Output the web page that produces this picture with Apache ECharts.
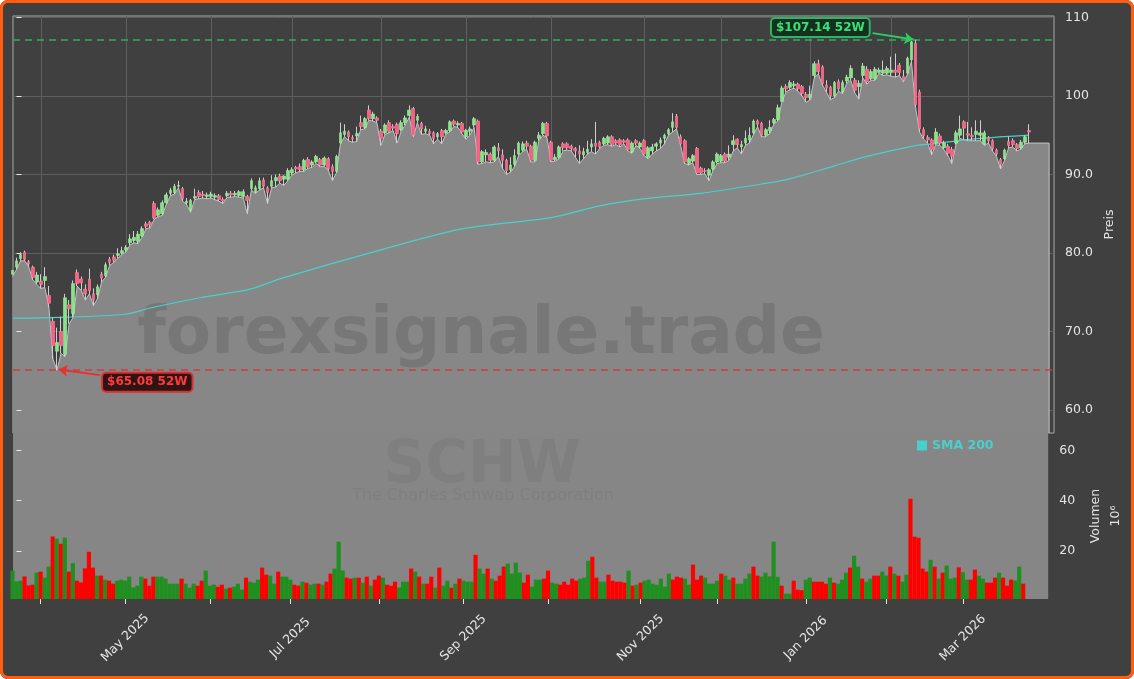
<!DOCTYPE html>
<html><head><meta charset="utf-8">
<script src="https://cdn.jsdelivr.net/npm/echarts@6/dist/echarts.min.js"></script>
<style>
html,body{margin:0;padding:0;background:#ffffff;}
#chart{position:absolute;left:0;top:0;width:1134px;height:679px;background:#404040;border-radius:8px;}
#frame{position:absolute;left:0;top:0;width:1134px;height:679px;box-sizing:border-box;border:3px solid #ff5e0e;border-radius:8px;pointer-events:none;}
</style></head><body>
<div id="chart"></div><div id="frame"></div>
<script>
// ---------- DATA (trading-day index; first entry is index -1 = 2025-03-21) ----------
const FIRST_IDX = -1;
const opens = [
77.3,78.2,79.3,80.1,78.9,78.2,76.3,76.4,76.5,74.6,71.3,
67.5,70.0,67.1,73.4,72.3,77.5,76.7,75.4,76.7,74.8,
74.7,77.3,77.1,79.2,79.5,79.7,80.0,80.4,81.3,81.6,
81.5,82.2,83.7,83.9,86.3,84.8,85.0,86.4,87.6,87.7,
88.5,88.2,86.4,85.5,87.0,87.7,87.5,87.2,87.2,87.1,
87.3,86.8,87.3,87.6,87.4,87.3,87.2,87.2,88.2,87.8,
88.2,89.3,88.3,88.5,89.2,89.8,89.4,89.4,90.2,90.9,
91.0,90.6,91.9,91.2,91.6,91.9,91.2,92.0,91.0,90.4,
94.0,95.1,95.4,94.7,94.9,96.6,96.0,98.2,97.1,97.2,
95.5,95.3,96.6,96.1,96.4,95.7,96.6,97.5,98.4,96.9,
96.5,95.5,95.5,95.3,94.8,95.6,95.3,95.6,96.8,96.3,
96.5,94.8,95.5,96.3,96.8,91.6,92.5,92.6,91.8,93.4,
92.5,91.8,90.6,91.3,92.6,93.1,94.0,93.6,91.8,94.6,
95.2,96.5,94.1,91.9,92.2,93.9,93.9,93.6,93.3,93.0,
92.5,92.8,93.5,94.0,94.1,93.9,94.0,94.8,94.3,94.4,
94.3,94.4,92.9,94.3,93.5,94.3,92.2,93.0,93.6,94.0,
94.6,95.2,96.0,97.4,94.8,94.3,91.4,91.7,93.3,90.8,
90.5,89.9,90.7,91.6,91.7,92.6,92.2,93.8,94.5,93.5,
94.0,94.4,95.3,96.8,96.5,95.0,95.6,96.6,97.0,99.3,
101.2,101.1,101.3,101.5,101.2,100.2,99.8,102.6,104.1,103.7,
101.4,101.1,100.0,101.8,100.5,101.9,102.3,102.0,101.2,102.6,
103.4,102.2,102.2,103.0,102.9,102.9,103.0,103.3,103.9,102.5,
102.9,104.6,106.7,100.5,95.7,94.7,94.4,94.0,94.9,93.4,
93.6,93.2,94.0,95.0,96.7,95.2,95.0,95.1,95.0,93.9,
94.7,94.3,93.1,91.9,92.0,94.2,94.3,93.8,93.4,94.1,95.6];
const closes = [
77.8,79.0,79.8,79.2,78.6,76.9,77.2,76.0,77.0,73.6,68.2,
68.6,68.2,74.3,72.9,76.1,76.1,76.2,74.8,75.2,74.0,
75.7,76.8,78.5,78.8,79.1,79.9,80.3,80.7,81.8,82.0,
82.4,83.1,83.4,83.6,84.5,85.5,86.4,87.4,88.0,88.5,
88.6,86.9,86.6,86.7,87.2,87.2,87.3,87.4,87.5,87.3,
86.8,86.6,87.6,87.4,87.6,87.8,87.8,86.7,89.2,88.3,
89.2,88.5,87.7,89.2,89.6,89.2,89.8,90.5,90.6,90.7,
90.6,91.8,91.0,91.6,92.3,91.2,92.1,90.7,90.4,92.3,
95.3,95.5,94.8,94.5,95.2,96.1,97.1,97.1,97.7,96.9,
94.6,96.3,95.5,95.9,95.2,96.6,97.2,98.2,95.0,97.4,
95.8,95.8,95.2,94.6,95.2,94.8,95.6,96.7,96.4,96.5,
95.4,95.6,95.8,97.1,91.6,92.9,92.8,91.8,93.5,93.0,
91.8,90.5,91.2,92.4,94.0,93.9,93.6,91.8,94.1,95.0,
96.5,94.9,91.8,92.2,93.5,93.4,93.4,93.3,93.0,92.6,
92.9,93.2,93.9,93.6,93.5,94.6,94.8,93.8,94.0,93.8,
94.1,93.2,94.0,94.0,94.0,92.6,93.4,93.5,93.9,94.4,
95.0,95.7,96.7,96.0,93.9,91.6,92.0,92.4,90.2,90.2,
90.4,90.6,91.6,92.6,92.4,91.7,92.6,94.3,93.8,93.8,
94.6,95.0,96.8,96.4,95.0,95.7,96.0,97.0,98.5,101.0,
100.9,101.7,101.5,100.9,100.3,99.8,100.2,104.1,103.1,101.6,
101.0,100.0,101.7,100.9,101.7,102.4,103.5,100.7,101.6,103.8,
101.8,103.1,103.4,103.3,103.3,103.5,103.3,103.0,103.0,102.0,
104.8,106.9,98.9,95.8,94.9,94.4,93.2,95.4,94.0,94.0,
92.7,92.3,95.3,95.8,95.9,95.0,94.8,95.5,95.3,95.3,
94.3,93.3,92.6,91.3,93.1,93.7,93.8,93.3,94.1,94.8,95.4];
const lows = [
77.0,77.9,79.0,79.0,78.3,76.6,76.0,75.5,75.6,73.1,66.5,
65.08,67.2,66.8,71.0,71.8,75.8,75.2,74.0,74.8,73.3,
74.2,76.3,76.9,78.4,78.8,79.3,79.8,80.1,81.0,81.3,
81.2,82.0,83.1,83.2,84.3,84.6,84.8,86.2,87.3,87.5,
88.3,86.6,86.2,85.2,86.8,86.9,87.0,86.9,87.0,86.8,
86.6,86.3,87.1,87.1,87.2,87.1,87.0,85.0,88.0,87.6,
88.0,88.3,86.3,88.3,88.4,88.9,88.6,89.2,89.9,90.2,
90.4,90.4,90.8,90.9,91.4,91.0,91.0,90.5,89.2,90.2,
93.9,94.8,94.3,94.1,94.2,95.7,95.8,96.9,96.8,96.6,
93.7,95.1,95.3,95.6,94.0,95.5,96.3,97.3,94.8,96.6,
95.1,95.2,95.0,93.9,94.5,93.9,95.1,95.4,96.1,96.0,
95.2,94.5,95.0,96.0,91.3,91.4,91.6,91.5,91.6,92.3,
90.8,90.0,90.3,91.0,92.4,92.9,93.2,91.6,91.6,94.3,
95.0,94.7,91.6,91.7,92.0,93.0,93.1,93.0,92.2,91.4,
92.0,92.6,92.9,92.6,93.3,93.7,93.8,93.6,93.8,93.5,
93.9,93.0,92.7,93.7,93.3,92.4,92.0,92.6,93.0,93.3,
93.9,95.0,95.4,95.8,93.7,91.4,91.2,91.5,90.0,90.0,
90.1,89.2,90.5,91.4,91.5,91.5,91.8,93.0,93.4,92.6,
93.7,94.0,95.1,96.1,94.8,94.8,95.2,96.4,96.8,99.2,
100.5,100.8,101.0,100.6,100.0,99.2,99.5,102.3,102.8,101.4,
100.5,99.5,99.8,100.6,100.3,101.6,102.0,100.4,99.6,102.3,
101.5,102.0,102.0,102.9,102.6,102.7,102.5,102.4,102.6,101.8,
102.7,104.4,98.6,95.4,94.5,94.0,92.5,93.8,93.7,93.2,
92.4,91.4,93.8,94.6,94.4,94.3,94.3,94.3,94.3,93.7,
94.0,93.0,92.3,90.7,91.8,93.4,93.5,93.0,93.2,93.9,94.0];
const highs = [
78.2,79.4,80.1,80.3,79.1,78.4,77.6,77.3,78.2,75.8,71.8,
70.5,71.9,74.8,74.0,76.5,77.9,77.0,76.0,78.0,75.5,
76.0,77.6,78.8,79.5,79.8,80.6,80.8,81.0,82.4,82.8,
82.8,83.4,84.0,84.1,86.6,85.8,86.7,87.7,88.3,88.8,
89.2,88.4,87.0,86.9,88.2,88.0,87.9,87.7,87.8,87.6,
87.5,87.1,87.9,87.9,87.9,88.0,88.1,87.4,89.5,88.6,
89.6,89.6,88.5,89.9,90.0,90.1,89.9,90.8,90.9,91.1,
91.4,92.0,92.2,91.8,92.5,92.1,92.3,92.2,91.3,92.5,
96.6,96.4,95.6,95.0,96.1,97.5,97.3,98.8,98.0,97.4,
95.8,96.5,96.9,96.4,96.6,96.9,97.5,98.8,98.6,97.7,
96.7,96.2,95.8,95.5,95.4,95.8,95.8,96.9,97.0,96.8,
96.7,95.8,96.1,97.3,97.0,93.1,93.2,92.8,93.7,94.0,
93.2,92.0,92.2,93.2,94.2,94.2,94.3,93.8,94.3,95.4,
96.7,96.7,94.3,92.6,93.7,94.1,94.1,93.8,93.5,93.7,
93.4,94.3,94.5,96.7,94.3,94.8,95.0,95.0,94.5,94.6,
94.5,94.6,94.2,94.5,94.2,94.5,93.6,93.9,94.1,94.7,
95.2,95.9,97.8,97.7,95.1,94.5,92.2,92.6,93.5,91.0,
90.8,90.8,91.8,92.8,92.6,92.8,93.7,95.0,94.6,94.3,
95.6,96.0,97.0,97.0,96.7,95.9,96.9,97.2,98.9,101.3,
101.5,102.0,101.9,101.7,101.4,100.5,101.3,104.4,104.6,103.9,
102.0,101.3,101.9,102.1,102.0,102.7,103.9,102.3,102.0,104.2,
103.8,103.4,103.7,103.6,104.5,103.8,105.0,105.4,104.2,103.3,
105.0,107.0,107.14,100.8,96.0,95.0,94.6,95.9,95.2,94.3,
93.9,93.5,95.6,97.5,96.9,96.7,96.0,96.9,96.9,95.6,
94.9,94.5,93.3,92.1,93.3,94.8,94.6,94.0,94.4,95.0,96.4];
// volume in millions
const volumes = [
12.1,7.8,8.1,9.8,6.2,6.5,11.3,11.7,9.3,13.7,25.7,
24.8,22.8,25.2,11.7,15.1,8.1,7.4,13.0,19.6,13.3,
10.1,10.1,8.5,8.1,6.9,8.1,8.5,8.1,9.7,5.4,
6.1,9.7,8.9,6.1,9.7,9.7,9.7,8.9,6.9,6.9,
6.9,8.9,6.9,5.3,6.9,6.1,8.1,12.1,6.1,6.5,
5.7,6.5,4.9,5.3,5.7,6.9,4.5,9.3,7.7,7.3,
8.5,13.3,10.5,10.1,6.9,11.7,9.7,9.7,8.5,6.5,
6.1,7.7,7.3,6.5,6.9,6.9,6.5,7.7,10.9,12.9,
23.6,12.1,9.3,8.9,9.3,9.3,7.3,9.7,6.1,8.5,
10.1,9.3,6.5,6.1,7.7,5.4,7.7,7.7,12.9,11.7,
9.7,6.9,6.9,9.7,5.3,13.3,6.1,8.1,5.3,6.9,
8.9,8.1,7.7,7.7,18.4,12.9,10.9,12.9,8.9,8.1,
10.1,13.7,14.9,10.9,15.3,11.3,7.3,10.5,5.7,8.5,
8.5,8.9,12.1,7.3,6.9,6.5,7.7,6.5,8.9,8.1,
8.9,9.3,16.0,17.6,9.3,7.7,7.7,10.5,8.1,7.7,
7.7,7.3,12.1,6.1,6.5,7.3,8.1,8.5,6.9,6.5,
8.9,5.7,10.9,8.5,9.7,9.3,8.9,6.5,14.5,8.5,
10.1,9.3,6.9,6.9,8.1,10.9,10.1,8.5,9.3,6.9,
6.9,8.9,10.9,13.7,10.1,9.7,11.3,9.8,23.6,9.6,
6.1,2.9,2.9,8.1,4.5,4.3,8.5,9.3,7.7,7.7,
7.7,6.9,9.3,7.3,6.9,8.5,11.3,13.3,18.0,13.7,
8.9,7.7,8.9,10.1,10.1,11.7,10.1,13.7,10.9,10.1,
7.7,10.5,40.7,25.6,25.2,12.9,11.7,16.4,13.7,8.9,
11.3,14.1,8.9,9.3,13.4,11.5,8.5,8.5,12.5,10.1,
8.9,7.3,7.3,9.3,11.3,9.3,6.1,8.5,8.1,13.7,6.9];
const volumeUp = [
1,1,1,0,0,0,1,0,1,1,0,
1,0,1,0,1,0,0,0,0,0,
1,0,1,0,0,1,1,1,1,1,
1,1,0,0,0,1,1,1,1,1,
1,0,1,1,1,0,0,1,1,1,
0,0,1,0,1,1,1,0,1,1,
1,0,0,1,1,0,1,1,1,0,
0,1,0,1,1,0,1,0,0,1,
1,1,0,0,1,0,1,0,1,0,
0,1,0,0,0,1,1,1,0,1,
0,1,0,0,1,0,1,1,0,1,
0,1,1,1,0,1,1,0,1,0,
0,0,1,1,1,1,0,0,1,1,
1,0,0,1,1,0,0,0,0,0,
1,1,1,0,0,1,1,0,0,0,
0,0,1,0,1,0,1,1,1,1,
1,1,1,0,0,0,1,1,0,0,
0,1,1,1,1,0,1,1,0,1,
1,1,1,0,0,1,1,1,1,1,
0,1,1,0,0,0,1,1,0,0,
0,0,1,0,1,1,1,0,1,1,
0,1,1,0,0,1,1,0,1,0,
1,1,0,0,0,0,0,1,0,1,
0,1,1,1,0,1,1,0,0,1,
1,0,0,0,1,0,0,0,1,1,0];
// SMA 200 read points [trading-day index, value]
const smaIdx = [-0.86,10.7,26.8,33,45.3,57.7,65,89.3,110.3,132,144,154.8,168.8,185.3,191,202,210,222.3,226.3,234.7,250];
const smaVal = [71.7,71.8,72.2,73.0,74.3,75.4,76.7,80.3,83.1,84.5,86.0,86.9,87.6,88.9,89.45,91.1,92.3,93.7,93.9,94.45,95.0];
// fill extension at right end
const areaEndIdx = 255, areaEndLevel = 94.0;
// 52-week extremes
const hi52 = {idx: 222, value: 107.14};
const lo52 = {idx: 10, value: 65.08};
// axis ticks
const monthTickIdx = [6,27,48,68,90,111,132,155,174,196,216,235];
const monthLabelIdx = [27,68,111,155,196,235];
const monthLabels = ['May 2025','Jul 2025','Sep 2025','Nov 2025','Jan 2026','Mar 2026'];
const priceTicks = [60,70,80,90,100,110];
const priceTickLabels = ['60.0','70.0','80.0','90.0','100','110'];
const volTicks = [20,40,60];
const volTickLabels = ['20','40','60'];

// ---------- CHART ----------
const X_MIN = -0.86, X_MAX = 256.2;
const Y_MIN = 57.08, Y_MAX = 110.18;
const V_MIN = 0.8, V_MAX = 66.9;
const FONT = 'DejaVu Sans';
const TXT = '#e4e4e4';

const wickData = opens.map((o,k)=>[k+FIRST_IDX, o, closes[k], lows[k], highs[k]]);
const bodyData = opens.map((o,k)=>[k+FIRST_IDX, o, closes[k], Math.min(o,closes[k]), Math.max(o,closes[k])]);
const areaData = lows.map((l,k)=>[k+FIRST_IDX, l]).concat([[areaEndIdx, areaEndLevel],[areaEndIdx, Y_MIN]]);
const smaData = smaIdx.map((x,k)=>[x, smaVal[k]]);
const volData = volumes.map((v,k)=>({value:[k+FIRST_IDX, v], itemStyle:{color: volumeUp[k] ? '#1f8f1f' : '#ff0000'}}));

const chart = echarts.init(document.getElementById('chart'));
chart.setOption({
  animation:false,
  backgroundColor:'transparent',
  textStyle:{fontFamily:FONT},
  legend:{data:['SMA 200'], left:912, top:434, icon:'rect', itemWidth:10, itemHeight:10, itemGap:6,
    textStyle:{color:'#48d1cc', fontWeight:'bold', fontSize:12.5, fontFamily:FONT}},
  grid:[
    {left:13, top:16, width:1041, height:417, show:true, backgroundColor:'#404040', borderColor:'#a8a8a8', borderWidth:1, z:0},
    {left:13, top:433, width:1041, height:166, show:true, backgroundColor:'#868686', borderWidth:0, z:0}
  ],
  xAxis:[
    {type:'value', gridIndex:0, min:X_MIN, max:X_MAX, axisLine:{show:false},
      axisTick:{show:false, customValues:monthTickIdx}, axisLabel:{show:false},
      splitLine:{show:true, lineStyle:{color:'#5f5f5f', width:1}}},
    {type:'value', gridIndex:1, min:X_MIN, max:X_MAX, axisLine:{show:false},
      axisTick:{show:true, customValues:monthTickIdx, length:5, lineStyle:{color:'#e6e6e6', width:1}},
      axisLabel:{customValues:monthLabelIdx, formatter:v=>monthLabels[monthLabelIdx.indexOf(v)],
        rotate:45, align:'center', verticalAlign:'middle', margin:39, color:TXT, fontSize:12.5, fontFamily:FONT},
      splitLine:{show:false}}
  ],
  yAxis:[
    {type:'value', gridIndex:0, position:'right', min:Y_MIN, max:Y_MAX, axisLine:{show:false},
      axisTick:{show:true, customValues:priceTicks, length:5, lineStyle:{color:'#e6e6e6'}},
      axisLabel:{customValues:priceTicks, formatter:v=>priceTickLabels[priceTicks.indexOf(v)], color:TXT, fontSize:12.5, margin:11, fontFamily:FONT},
      splitLine:{show:true, lineStyle:{color:'#5f5f5f', width:1}},
      name:'Preis', nameLocation:'middle', nameRotate:90, nameGap:46,
      nameTextStyle:{color:TXT, fontSize:12.5, fontFamily:FONT}},
    {type:'value', gridIndex:1, position:'right', min:V_MIN, max:V_MAX, axisLine:{show:false},
      axisTick:{show:true, customValues:volTicks, length:5, lineStyle:{color:'#e6e6e6'}},
      axisLabel:{customValues:volTicks, formatter:v=>volTickLabels[volTicks.indexOf(v)], color:TXT, fontSize:12.5, margin:11, fontFamily:FONT},
      splitLine:{show:false},
      name:'Volumen\n10⁶', nameLocation:'middle', nameRotate:90, nameGap:31,
      nameTextStyle:{color:TXT, fontSize:12.5, lineHeight:20, fontFamily:FONT}}
  ],
  graphic:[
    {type:'text', x:481, y:336, z:1, silent:true, style:{text:'forexsignale.trade', font:'bold 66px "DejaVu Sans"', fill:'rgba(64,64,64,0.22)', align:'center', verticalAlign:'middle'}},
    {type:'text', x:482, y:467, z:1, silent:true, style:{text:'SCHW', font:'bold 58px "DejaVu Sans"', fill:'rgba(64,64,64,0.1)', align:'center', verticalAlign:'middle'}},
    {type:'text', x:483, y:496, z:1, silent:true, style:{text:'The Charles Schwab Corporation', font:'16px "DejaVu Sans"', fill:'rgba(64,64,64,0.09)', align:'center', verticalAlign:'middle'}}
  ],
  series:[
    {type:'line', name:'lowfill', xAxisIndex:0, yAxisIndex:0, data:areaData, showSymbol:false, symbol:'none', z:0, zlevel:0,
      lineStyle:{color:'#c4c4c4', width:1}, areaStyle:{color:'#878787', opacity:1, origin:'start'}},
    {type:'line', name:'SMA 200', xAxisIndex:0, yAxisIndex:0, data:smaData, showSymbol:false, symbol:'none', smooth:0.3, z:4,
      lineStyle:{color:'#48d1cc', width:1.2}, itemStyle:{color:'#48d1cc'}},
    {type:'candlestick', name:'wick', xAxisIndex:0, yAxisIndex:0, data:wickData, barWidth:1, z:5,
      itemStyle:{color:'#cfcfcf', color0:'#cfcfcf', borderColor:'#cfcfcf', borderColor0:'#cfcfcf', borderWidth:1}},
    {type:'candlestick', name:'body', xAxisIndex:0, yAxisIndex:0, data:bodyData, barWidth:3.2, z:6,
      itemStyle:{color:'#86e486', color0:'#ff5c84', borderColor:'#a4eca4', borderColor0:'#ff86a2', borderWidth:0.6},
      markLine:{silent:true, symbol:['none','none'], label:{show:false}, animation:false,
        data:[
          {yAxis:hi52.value, lineStyle:{color:'#2fae5f', type:[7,5], width:1.5}},
          {yAxis:lo52.value, lineStyle:{color:'#d23c3c', type:[7,5], width:1.5}},
          [{coord:[211.4,108.0], symbol:'none'},{coord:[221.5,hi52.value+0.05], symbol:'arrow', symbolSize:9, lineStyle:{color:'#2ecc62', width:2, type:'solid'}}],
          [{coord:[20.6,64.45], symbol:'none'},{coord:[10.4,lo52.value+0.08], symbol:'arrow', symbolSize:9, lineStyle:{color:'#e83030', width:2, type:'solid'}}]
        ]},
      markPoint:{silent:true, animation:false,
        data:[
          {coord:[198.5,108.71], symbol:'rect', symbolSize:1, itemStyle:{color:'rgba(0,0,0,0)'},
            label:{show:true, position:'inside', formatter:'$'+hi52.value.toFixed(2)+' 52W', color:'#3be07a', fontWeight:'bold', fontSize:12, fontFamily:FONT,
              backgroundColor:'#16301f', borderColor:'#2fb463', borderWidth:2, borderRadius:3, padding:[3,4,2,4]}},
          {coord:[32.3,63.55], symbol:'rect', symbolSize:1, itemStyle:{color:'rgba(0,0,0,0)'},
            label:{show:true, position:'inside', formatter:'$'+lo52.value.toFixed(2)+' 52W', color:'#ff3b3b', fontWeight:'bold', fontSize:12, fontFamily:FONT,
              backgroundColor:'#2e1414', borderColor:'#d83030', borderWidth:2, borderRadius:3, padding:[3,4,2,4]}}
        ]}},
    {type:'bar', name:'Volumen', xAxisIndex:1, yAxisIndex:1, data:volData, barWidth:4.15, z:3}
  ]
});
</script></body></html>
